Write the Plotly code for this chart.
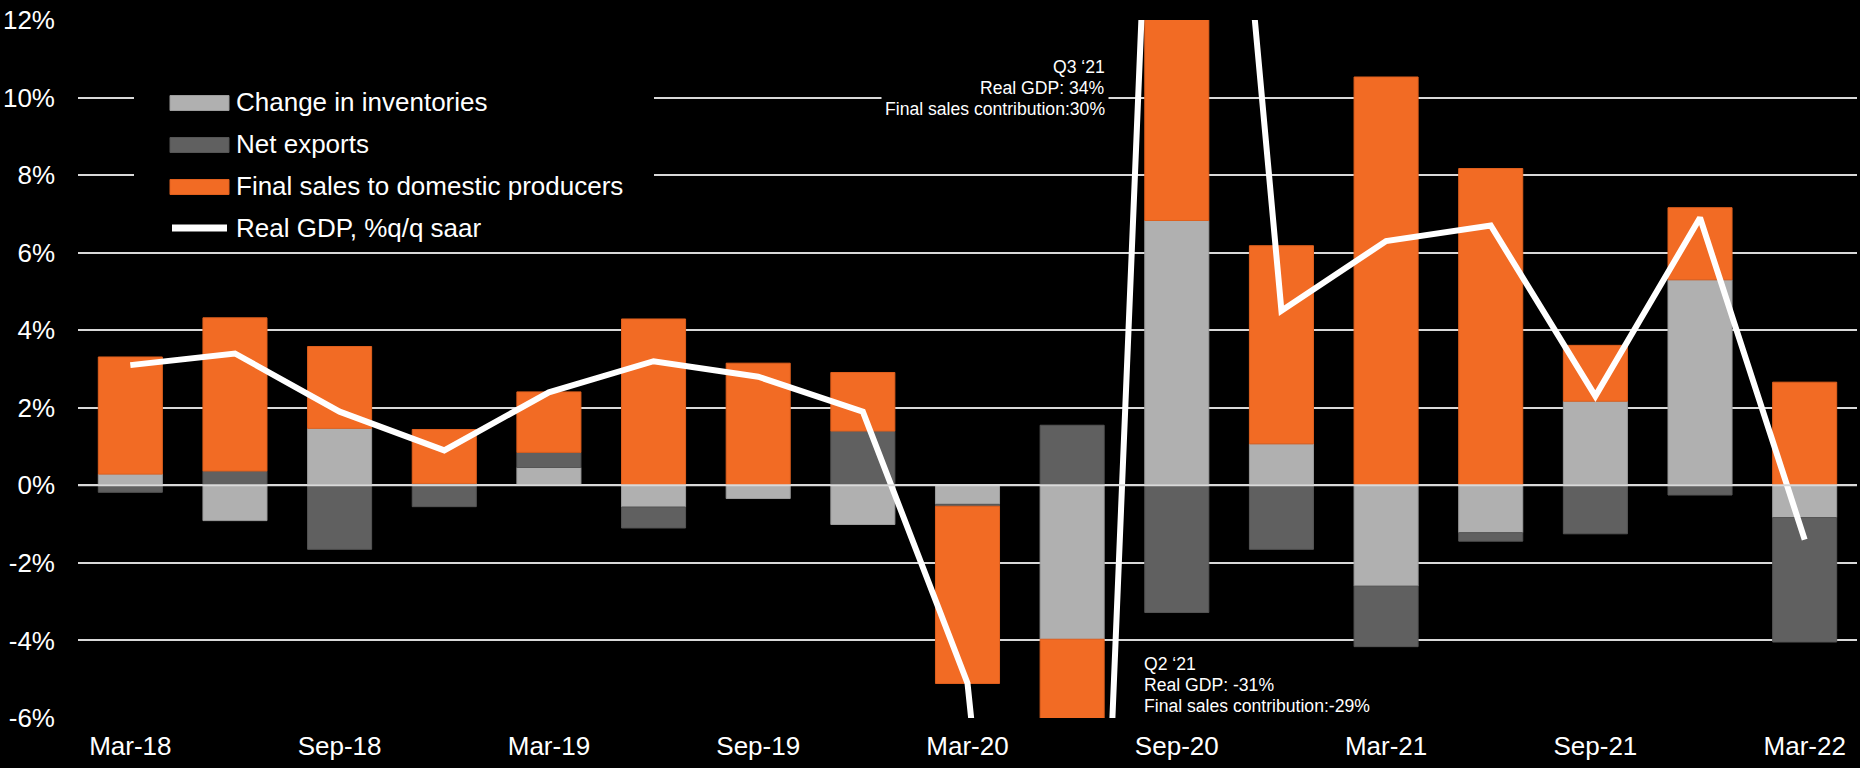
import plotly.graph_objects as go

# Quarterly contributions to US real GDP growth (percentage points, saar)
quarters = ["Mar-18", "Jun-18", "Sep-18", "Dec-18", "Mar-19", "Jun-19", "Sep-19", "Dec-19",
            "Mar-20", "Jun-20", "Sep-20", "Dec-20", "Mar-21", "Jun-21", "Sep-21", "Dec-21",
            "Mar-22"]
inventories = [0.29, -0.91, 1.47, 0.05, 0.46, -0.56, -0.34, -1.01,
               -0.49, -3.97, 6.83, 1.07, -2.60, -1.22, 2.17, 5.30, -0.83]
net_exports = [-0.18, 0.37, -1.65, -0.55, 0.39, -0.54, 0.00, 1.40,
               -0.05, 1.55, -3.28, -1.65, -1.56, -0.22, -1.25, -0.25, -3.21]
final_sales = [3.02, 3.95, 2.11, 1.39, 1.56, 4.29, 3.15, 1.51,
               -4.57, -29.0, 30.0, 5.11, 10.53, 8.17, 1.44, 1.86, 2.66]
real_gdp = [3.1, 3.4, 1.9, 0.9, 2.4, 3.2, 2.8, 1.9,
            -5.1, -31.0, 34.0, 4.5, 6.3, 6.7, 2.3, 6.9, -1.4]
x_tick_labels = quarters[::2]
y_tick_values = [-6, -4, -2, 0, 2, 4, 6, 8, 10, 12]
y_tick_labels = ["-6%", "-4%", "-2%", "0%", "2%", "4%", "6%", "8%", "10%", "12%"]

W, H = 1860, 768
M_L, M_R, M_T, M_B = 78, 3, 20, 50
PLOT_W = W - M_L - M_R
PLOT_H = H - M_T - M_B

FONT = "Liberation Sans, Arial, sans-serif"
ORANGE = "#F26B24"
LIGHT = "#B0B0B0"
DARK = "#606060"
GRID = "#D9D9D9"


def paper_x(px):
    return (px - M_L) / PLOT_W


def paper_y(py):
    return 1 - (py - M_T) / PLOT_H


series = [
    ("Change in inventories", inventories, LIGHT, "#9C9C9C"),
    ("Net exports", net_exports, DARK, "#555555"),
    ("Final sales to domestic producers", final_sales, ORANGE, "#E0601E"),
]

fig = go.Figure()
for name, values, color, edge in series:
    fig.add_bar(x=quarters, y=values, name=name,
                marker=dict(color=color, line=dict(color=edge, width=1)))
fig.add_scatter(x=quarters, y=real_gdp, mode="lines", name="Real GDP, %q/q saar",
                line=dict(color="white", width=6))

# zero line drawn over the bars
fig.add_shape(type="line", xref="paper", x0=0, x1=1, yref="y", y0=0, y1=0,
              line=dict(color=GRID, width=2), layer="above")

# legend panel: black box with wide keys
fig.add_shape(type="rect", xref="paper", yref="paper",
              x0=paper_x(134), x1=paper_x(654), y0=paper_y(246), y1=paper_y(80),
              fillcolor="black", line=dict(width=0), layer="above")
legend_rows = [102, 144, 186, 228]
key_x0, key_x1, text_x = 170, 229, 234
for (name, _, color, edge), row in zip(series, legend_rows):
    fig.add_shape(type="rect", xref="paper", yref="paper",
                  x0=paper_x(key_x0), x1=paper_x(key_x1),
                  y0=paper_y(row + 8.5), y1=paper_y(row - 6.5),
                  fillcolor=color, line=dict(color=edge, width=1), layer="above")
    fig.add_annotation(text=name, xref="paper", yref="paper",
                       x=paper_x(text_x), y=paper_y(row), xanchor="left",
                       yanchor="middle", showarrow=False,
                       font=dict(family=FONT, size=26, color="white"))
fig.add_shape(type="line", xref="paper", yref="paper",
              x0=paper_x(key_x0 + 2), x1=paper_x(key_x1 - 2),
              y0=paper_y(legend_rows[3]), y1=paper_y(legend_rows[3]),
              line=dict(color="white", width=7), layer="above")
fig.add_annotation(text="Real GDP, %q/q saar", xref="paper", yref="paper",
                   x=paper_x(text_x), y=paper_y(legend_rows[3]), xanchor="left",
                   yanchor="middle", showarrow=False,
                   font=dict(family=FONT, size=26, color="white"))

note_font = dict(family=FONT, size=17.6, color="white")
q3_lines = ["Q3 \u201821", "Real GDP: 34%", "Final sales contribution:30%"]
q3_y = [10.80, 10.25, 9.71]
for i, (txt, yv) in enumerate(zip(q3_lines, q3_y)):
    fig.add_annotation(text=txt, xref="paper", x=paper_x(1109), yref="y", y=yv,
                       xanchor="right", yanchor="middle", showarrow=False,
                       font=note_font,
                       bgcolor="black" if i == 2 else None, borderpad=3)
q2_lines = ["Q2 \u201821", "Real GDP: -31%", "Final sales contribution:-29%"]
q2_y = [-4.61, -5.15, -5.69]
for txt, yv in zip(q2_lines, q2_y):
    fig.add_annotation(text=txt, xref="paper", x=paper_x(1142), yref="y", y=yv,
                       xanchor="left", yanchor="middle", showarrow=False,
                       font=note_font)

fig.update_layout(
    width=W, height=H, autosize=False,
    margin=dict(l=M_L, r=M_R, t=M_T, b=M_B, pad=0),
    paper_bgcolor="black", plot_bgcolor="black",
    font=dict(family=FONT, size=26, color="white"),
    barmode="relative", bargap=0.388,
    showlegend=False,
    xaxis=dict(type="category", tickmode="array", tickvals=x_tick_labels,
               ticktext=x_tick_labels, showgrid=False, zeroline=False,
               showline=False, ticks="", tickfont=dict(size=26, color="white"),
               ticklabelstandoff=10),
    yaxis=dict(range=[-6, 12], tickmode="array", tickvals=y_tick_values,
               ticktext=y_tick_labels,
               showgrid=True, gridcolor=GRID, gridwidth=2,
               zeroline=False, showline=False, ticks="",
               tickfont=dict(size=26, color="white"), ticklabelstandoff=22),
)

fig.write_html("out.html", config={"displayModeBar": False})
